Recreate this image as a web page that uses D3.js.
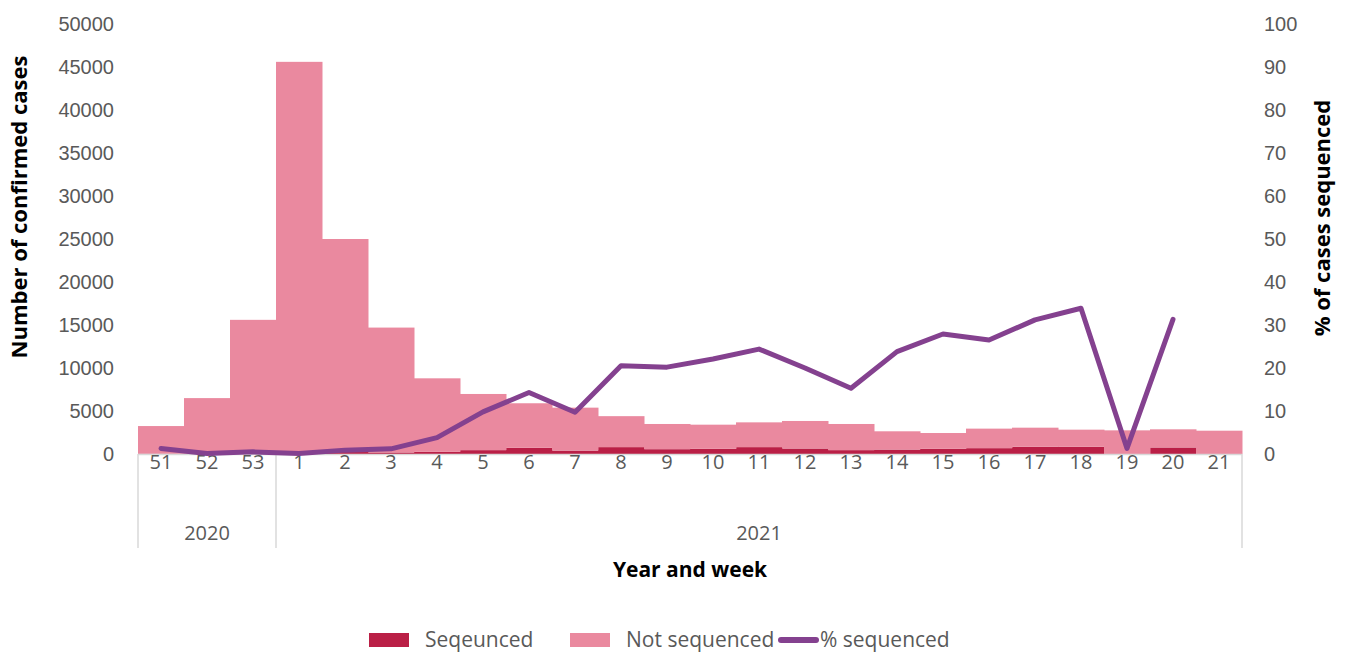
<!DOCTYPE html>
<html>
<head>
<meta charset="utf-8">
<script src="https://cdn.jsdelivr.net/npm/d3@7"></script>
<style>
  html, body { margin: 0; padding: 0; background: #fff; }
  svg { display: block; font-family: "Open Sans", "Noto Sans", sans-serif; }
</style>
</head>
<body>
<svg id="chart" width="1348" height="652"></svg>
<script>
// ---- Data ----
const weeks = ["51","52","53","1","2","3","4","5","6","7","8","9","10","11","12","13","14","15","16","17","18","19","20","21"];
const years = [
  { label: "2020", first: "51", last: "53" },
  { label: "2021", first: "1",  last: "21" }
];
const sequenced    = [45, 15, 95, 90, 230, 180, 250, 450, 720, 400, 800, 560, 600, 800, 640, 450, 520, 600, 680, 840, 840, 0, 760, 0];
const notSequenced = [3205, 6485, 15505, 45510, 24770, 14520, 8550, 6530, 5180, 4990, 3600, 2930, 2810, 2880, 3200, 3040, 2120, 1840, 2270, 2220, 1990, 2750, 2110, 2710];
const pctSequenced = [1.3, 0.1, 0.5, 0.1, 0.9, 1.2, 3.8, 9.8, 14.3, 9.7, 20.5, 20.2, 22.1, 24.4, 20.0, 15.3, 23.8, 27.9, 26.5, 31.2, 33.9, 1.3, 31.3, null];
const leftTicks  = [0, 5000, 10000, 15000, 20000, 25000, 30000, 35000, 40000, 45000, 50000];
const rightTicks = [0, 10, 20, 30, 40, 50, 60, 70, 80, 90, 100];
const seriesNames = ["Seqeunced", "Not sequenced", "% sequenced"];

// ---- Styles ----
const C_SEQ = "#BA1F46", C_NOT = "#EA899F", C_LINE = "#84418F";
const TICK_COLOR = "#595959", GRID_COLOR = "#D9D9D9";

const svg = d3.select("#chart");
const L = 138, R = 1242, T = 24, B = 454;

const x = d3.scaleBand().domain(weeks).range([L, R]).padding(0);
const yL = d3.scaleLinear().domain([0, 50000]).range([B, T]);
const yR = d3.scaleLinear().domain([0, 100]).range([B, T]);

const rows = weeks.map((w, i) => ({ week: w, seq: sequenced[i], not: notSequenced[i], pct: pctSequenced[i] }));
const stack = d3.stack().keys(["seq", "not"])(rows);

// Bars
const colors = { seq: C_SEQ, not: C_NOT };
svg.append("g").selectAll("g").data(stack).join("g")
  .attr("fill", d => colors[d.key])
  .selectAll("rect").data(d => d).join("rect")
  .attr("x", d => x(d.data.week))
  .attr("width", x.bandwidth() + 0.5)
  .attr("y", d => yL(d[1]))
  .attr("height", d => Math.max(0, yL(d[0]) - yL(d[1])));

// Category axis frame lines
const gx = svg.append("g");
gx.append("line").attr("x1", L).attr("x2", R).attr("y1", B + 0.5).attr("y2", B + 0.5)
  .attr("stroke", GRID_COLOR).attr("stroke-width", 1.5);
const seps = [x(weeks[0]), x("1"), x(weeks[weeks.length - 1]) + x.bandwidth()];
gx.selectAll("line.sep").data(seps).join("line").attr("class", "sep")
  .attr("x1", d => d).attr("x2", d => d).attr("y1", B).attr("y2", 548)
  .attr("stroke", GRID_COLOR).attr("stroke-width", 1.5);

// Bottom axis (weeks)
const axB = svg.append("g").attr("transform", `translate(0,${B})`)
  .call(d3.axisBottom(x).tickSize(0).tickPadding(1));
axB.select(".domain").remove();
axB.selectAll("text").attr("fill", TICK_COLOR).style("font-size", "20px")
  .style("font-family", "'Open Sans', sans-serif");

// Year labels
svg.append("g").selectAll("text").data(years).join("text")
  .attr("x", d => (x(d.first) + x(d.last) + x.bandwidth()) / 2)
  .attr("y", 540)
  .attr("text-anchor", "middle")
  .attr("fill", TICK_COLOR).style("font-size", "20px")
  .text(d => d.label);

// Left axis
const axL = svg.append("g").attr("transform", `translate(${L},0)`)
  .call(d3.axisLeft(yL).tickValues(leftTicks).tickSize(0).tickPadding(24).tickFormat(d3.format("d")));
axL.select(".domain").remove();
axL.selectAll("text").attr("fill", TICK_COLOR).style("font-size", "20px");

// Right axis
const axR = svg.append("g").attr("transform", `translate(${R},0)`)
  .call(d3.axisRight(yR).tickValues(rightTicks).tickSize(0).tickPadding(22).tickFormat(d3.format("d")));
axR.select(".domain").remove();
axR.selectAll("text").attr("fill", TICK_COLOR).style("font-size", "20px");

// Line
const line = d3.line()
  .defined(d => d.pct !== null)
  .x(d => x(d.week) + x.bandwidth() / 2)
  .y(d => yR(d.pct));
svg.append("path").datum(rows)
  .attr("fill", "none").attr("stroke", C_LINE).attr("stroke-width", 5)
  .attr("stroke-linejoin", "round").attr("stroke-linecap", "round")
  .attr("d", line);

// Axis titles
svg.append("text")
  .attr("transform", "translate(27,207) rotate(-90)")
  .attr("text-anchor", "middle")
  .style("font-size", "22px").style("font-weight", "bold").attr("fill", "#000")
  .text("Number of confirmed cases");
svg.append("text")
  .attr("transform", "translate(1330,218) rotate(-90)")
  .attr("text-anchor", "middle")
  .style("font-size", "22px").style("font-weight", "bold").attr("fill", "#000")
  .text("% of cases sequenced");
svg.append("text")
  .attr("x", 690).attr("y", 577)
  .attr("text-anchor", "middle")
  .style("font-size", "21px").style("font-weight", "bold").attr("fill", "#000")
  .text("Year and week");

// Legend
const lg = svg.append("g").style("font-size", "21px");
const legendItems = [
  { name: seriesNames[0], type: "rect", color: C_SEQ, x: 369 },
  { name: seriesNames[1], type: "rect", color: C_NOT, x: 570 },
  { name: seriesNames[2], type: "line", color: C_LINE, x: 778 }
];
legendItems.forEach(it => {
  if (it.type === "rect") {
    lg.append("rect").attr("x", it.x).attr("y", 633).attr("width", 40).attr("height", 14).attr("fill", it.color);
    lg.append("text").attr("x", it.x + 56).attr("y", 647).attr("fill", TICK_COLOR).text(it.name);
  } else {
    lg.append("line").attr("x1", it.x + 3).attr("x2", it.x + 38).attr("y1", 640).attr("y2", 640)
      .attr("stroke", it.color).attr("stroke-width", 6).attr("stroke-linecap", "round");
    lg.append("text").attr("x", it.x + 42).attr("y", 647).attr("fill", TICK_COLOR).text(it.name);
  }
});
</script>
</body>
</html>
